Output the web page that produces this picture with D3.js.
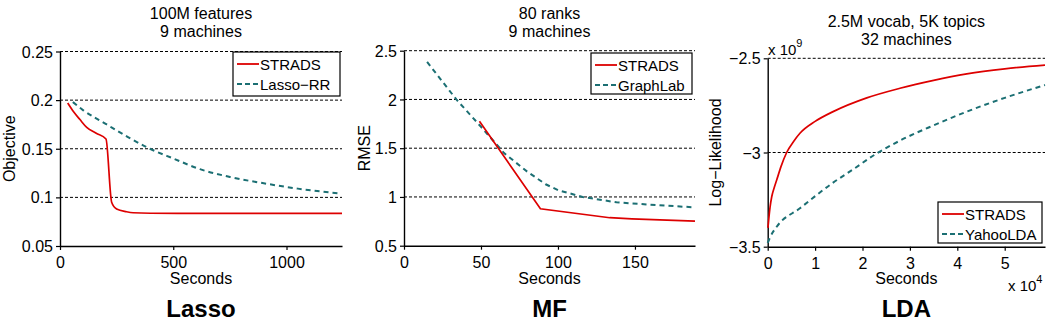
<!DOCTYPE html>
<html>
<head>
<meta charset="utf-8">
<script src="https://cdn.jsdelivr.net/npm/d3@7"></script>
<style>
  body { margin: 0; background: #fff; }
  svg text { font-family: "Liberation Sans", Arial, sans-serif; fill: #000; }
</style>
</head>
<body>
<svg id="chart" width="1050" height="325"></svg>
<script>
// ---- data ----
// Lasso: seconds vs objective
var lassoStradsX = [34, 60, 88, 118, 160, 203, 228, 250, 294, 323, 400, 600, 1245];
var lassoStradsY = [0.197, 0.188, 0.180, 0.172, 0.166, 0.160, 0.095, 0.088, 0.0852, 0.0842, 0.0837, 0.0835, 0.0835];
var lassoRRX = [57, 100, 206, 300, 397, 500, 618, 750, 912, 1050, 1240];
var lassoRRY = [0.198, 0.190, 0.175, 0.162, 0.150, 0.140, 0.129, 0.121, 0.114, 0.109, 0.104];
var lassoXTicks = [0, 500, 1000];
var lassoYTicks = [0.05, 0.1, 0.15, 0.2, 0.25];

// MF: seconds vs RMSE
var mfStradsX = [49, 88.6, 133.6, 148, 189];
var mfStradsY = [1.777, 0.879, 0.787, 0.776, 0.752];
var mfGraphLabX = [15, 34, 50, 65, 80, 92, 100, 116, 138, 160, 187];
var mfGraphLabY = [2.385, 2.0, 1.72, 1.45, 1.26, 1.13, 1.07, 1.0, 0.945, 0.92, 0.895];
var mfXTicks = [0, 50, 100, 150];
var mfYTicks = [0.5, 1, 1.5, 2, 2.5];

// LDA: seconds (x 10^4) vs log-likelihood (x 10^9)
var ldaStradsX = [0.005, 0.02, 0.05, 0.085, 0.14, 0.19, 0.28, 0.4, 0.55, 0.68, 1.0, 1.38, 2.09, 2.79, 3.5, 4.2, 5.0, 5.85];
var ldaStradsY = [-3.40, -3.36, -3.29, -3.235, -3.185, -3.146, -3.075, -3.0, -2.94, -2.898, -2.835, -2.783, -2.71, -2.659, -2.617, -2.583, -2.556, -2.536];
var ldaYahooX = [0.0, 0.05, 0.19, 0.68, 1.38, 1.8, 2.25, 2.79, 3.5, 4.2, 5.0, 5.85];
var ldaYahooY = [-3.48, -3.45, -3.394, -3.296, -3.16, -3.09, -3.013, -2.937, -2.856, -2.783, -2.71, -2.642];
var ldaXTicks = [0, 1, 2, 3, 4, 5];
var ldaYTicks = [-3.5, -3, -2.5];

var red = "#dd0000";
var teal = "#1b6f73";

var svg = d3.select("#chart");

function zip(xs, ys) {
    return xs.map(function(x, i) { return [x, ys[i]]; });
}

function drawPanel(p) {
    var g = svg.append("g");

    var x = d3.scaleLinear().domain(p.xDomain).range([p.left, p.right]);
    var y = d3.scaleLinear().domain(p.yDomain).range([p.bottom, p.top]);

    // dashed gridlines
    g.selectAll("line.grid")
        .data(p.yTicks.slice(1))
        .enter()
        .append("line")
        .attr("x1", p.left)
        .attr("x2", p.right)
        .attr("y1", function(d) { return y(d); })
        .attr("y2", function(d) { return y(d); })
        .attr("stroke", "#000")
        .attr("stroke-width", 1)
        .attr("stroke-dasharray", "3,2");

    // axes
    var xAxis = g.append("g")
        .attr("transform", "translate(0," + p.bottom + ")")
        .call(d3.axisBottom(x).tickValues(p.xTicks).tickSize(4).tickSizeOuter(0).tickFormat(d3.format("")));
    var yAxis = g.append("g")
        .attr("transform", "translate(" + p.left + ",0)")
        .call(d3.axisLeft(y).tickValues(p.yTicks).tickSize(4).tickSizeOuter(0).tickFormat(p.yFormat));

    [xAxis, yAxis].forEach(function(a) {
        a.select(".domain").attr("stroke", "#000").attr("stroke-width", 1.4);
        a.selectAll(".tick line").attr("stroke", "#000").attr("stroke-width", 1.2);
        a.selectAll(".tick text")
            .attr("font-family", "Liberation Sans, Arial, sans-serif")
            .attr("font-size", 16)
            .attr("fill", "#000");
    });
    xAxis.selectAll(".tick text").attr("dy", null).attr("y", 22);
    yAxis.selectAll(".tick text").attr("x", -7).attr("dy", "0.35em");

    // lines
    var line = d3.line()
        .x(function(d) { return x(d[0]); })
        .y(function(d) { return y(d[1]); })
        .curve(p.curve);

    g.append("path")
        .datum(p.series[1].data)
        .attr("d", line)
        .attr("fill", "none")
        .attr("stroke", teal)
        .attr("stroke-width", 2)
        .attr("stroke-dasharray", "5,4");

    g.append("path")
        .datum(p.series[0].data)
        .attr("d", line)
        .attr("fill", "none")
        .attr("stroke", red)
        .attr("stroke-width", 1.7);

    // titles
    var cx = (p.left + p.right) / 2;
    p.title.forEach(function(t, i) {
        g.append("text")
            .attr("x", cx)
            .attr("y", p.titleY + i * 18)
            .attr("text-anchor", "middle")
            .attr("font-size", 16)
            .text(t);
    });

    g.append("text")
        .attr("x", cx)
        .attr("y", 284)
        .attr("text-anchor", "middle")
        .attr("font-size", 16)
        .text("Seconds");

    g.append("text")
        .attr("transform", "translate(" + p.yLabelX + "," + ((p.top + p.bottom) / 2) + ") rotate(-90)")
        .attr("text-anchor", "middle")
        .attr("font-size", 16)
        .text(p.yLabel);

    g.append("text")
        .attr("x", cx)
        .attr("y", 317)
        .attr("text-anchor", "middle")
        .attr("font-size", 24)
        .attr("font-weight", "bold")
        .text(p.name);

    // legend
    var lg = p.legend;
    g.append("rect")
        .attr("x", lg.x)
        .attr("y", lg.y)
        .attr("width", lg.w)
        .attr("height", lg.h)
        .attr("fill", "#fff")
        .attr("stroke", "#000")
        .attr("stroke-width", 1.2);

    p.series.forEach(function(s, i) {
        var ly = lg.y + 12 + i * 20;
        g.append("line")
            .attr("x1", lg.x + 4)
            .attr("x2", lg.x + 26)
            .attr("y1", ly)
            .attr("y2", ly)
            .attr("stroke", i === 0 ? red : teal)
            .attr("stroke-width", i === 0 ? 1.8 : 2)
            .attr("stroke-dasharray", i === 0 ? null : "5,3");
        g.append("text")
            .attr("x", lg.x + 27)
            .attr("y", ly + 5.5)
            .attr("font-size", 15)
            .text(s.name);
    });

    return g;
}

var fmt = function(d) { return String(d); };

drawPanel({
    name: "Lasso",
    left: 60, right: 342, top: 51.5, bottom: 246,
    xDomain: [0, 1245], yDomain: [0.05, 0.25],
    xTicks: lassoXTicks, yTicks: lassoYTicks, yFormat: fmt,
    curve: d3.curveMonotoneX,
    title: ["100M features", "9 machines"], titleY: 19,
    yLabel: "Objective", yLabelX: 15,
    legend: { x: 233, y: 52, w: 107, h: 44 },
    series: [
        { name: "STRADS", data: zip(lassoStradsX, lassoStradsY) },
        { name: "Lasso\u2212RR", data: zip(lassoRRX, lassoRRY) }
    ]
});

drawPanel({
    name: "MF",
    left: 404, right: 695, top: 50.7, bottom: 245.7,
    xDomain: [0, 189], yDomain: [0.5, 2.5],
    xTicks: mfXTicks, yTicks: mfYTicks, yFormat: fmt,
    curve: d3.curveLinear,
    title: ["80 ranks", "9 machines"], titleY: 19,
    yLabel: "RMSE", yLabelX: 370,
    legend: { x: 591, y: 53, w: 101, h: 41 },
    series: [
        { name: "STRADS", data: zip(mfStradsX, mfStradsY) },
        { name: "GraphLab", data: zip(mfGraphLabX, mfGraphLabY) }
    ]
});

var lda = drawPanel({
    name: "LDA",
    left: 767.7, right: 1045, top: 58.3, bottom: 246.7,
    xDomain: [0, 5.85], yDomain: [-3.5, -2.5],
    xTicks: ldaXTicks, yTicks: ldaYTicks, yFormat: d3.format(""),
    curve: d3.curveMonotoneX,
    title: ["2.5M vocab, 5K topics", "32 machines"], titleY: 27,
    yLabel: "Log\u2212Likelihood", yLabelX: 721,
    legend: { x: 938, y: 202, w: 104, h: 41 },
    series: [
        { name: "STRADS", data: zip(ldaStradsX, ldaStradsY) },
        { name: "YahooLDA", data: zip(ldaYahooX, ldaYahooY) }
    ]
});

// exponent labels
var e9 = lda.append("text").attr("x", 768).attr("y", 55).attr("font-size", 15);
e9.append("tspan").text("x 10");
e9.append("tspan").attr("dy", -8).attr("font-size", 11).text("9");

var e4 = lda.append("text").attr("x", 1008).attr("y", 291).attr("font-size", 15);
e4.append("tspan").text("x 10");
e4.append("tspan").attr("dy", -8).attr("font-size", 11).text("4");
</script>
</body>
</html>
